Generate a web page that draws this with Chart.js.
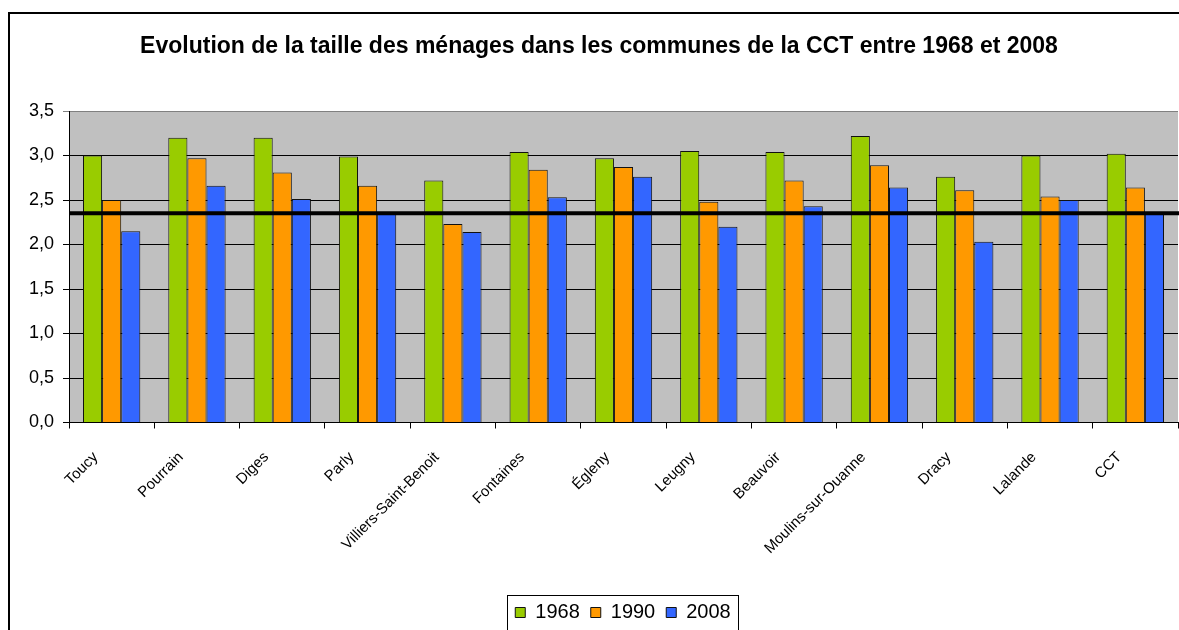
<!DOCTYPE html>
<html><head><meta charset="utf-8">
<script src="https://cdn.jsdelivr.net/npm/chart.js@4.4.1/dist/chart.umd.min.js"></script>
<style>html,body{margin:0;padding:0;background:#fff;overflow:hidden}#wrap{width:1179px;height:630px;position:relative}</style>
</head><body><div id="wrap"><canvas id="c" width="1179" height="630"></canvas></div>
<script>
const categories = ['Toucy','Pourrain','Diges','Parly','Villiers-Saint-Benoit','Fontaines','Égleny','Leugny','Beauvoir','Moulins-sur-Ouanne','Dracy','Lalande','CCT'];
const seriesNames = ['1968','1990','2008'];
const values1968 = [3.00, 3.20, 3.20, 2.99, 2.72, 3.04, 2.97, 3.05, 3.04, 3.22, 2.76, 3.00, 3.02];
const values1990 = [2.50, 2.97, 2.81, 2.66, 2.23, 2.84, 2.87, 2.48, 2.72, 2.89, 2.61, 2.54, 2.64];
const values2008 = [2.15, 2.66, 2.51, 2.35, 2.14, 2.53, 2.76, 2.20, 2.43, 2.64, 2.03, 2.50, 2.35];
const referenceValue = 2.35;
const titleText = 'Evolution de la taille des ménages dans les communes de la CCT entre 1968 et 2008';
const yMin = 0, yMax = 3.5, yStep = 0.5;

const seriesColors = ['#99CC00', '#FF9900', '#3366FF'];
const FONT = '"Liberation Sans", Arial, sans-serif';

const decor = {
  id: 'decor',
  beforeDraw(chart) {
    const {ctx, chartArea: a} = chart;
    ctx.save();
    ctx.fillStyle = '#fff';
    ctx.fillRect(0, 0, chart.width, chart.height);
    ctx.fillStyle = '#C0C0C0';
    ctx.fillRect(a.left, a.top, a.right - a.left, a.bottom - a.top);
    ctx.restore();
  },
  afterLayout(chart) {
    if (chart.legend) { chart.legend.left += 30; chart.legend.right += 30; }
    if (chart.titleBlock) { chart.titleBlock.left += 6; chart.titleBlock.right += 6; }
  },
  afterDatasetsDraw(chart) {
    const {ctx, chartArea: a} = chart;
    const y = chart.scales.y.getPixelForValue(referenceValue);
    ctx.save();
    ctx.strokeStyle = '#000';
    ctx.lineWidth = 4;
    ctx.beginPath();
    ctx.moveTo(a.left, y);
    ctx.lineTo(a.right + 2, y);
    ctx.stroke();
    ctx.restore();
  },
  afterDraw(chart) {
    const ctx = chart.ctx;
    ctx.save();
    ctx.strokeStyle = '#000';
    ctx.lineWidth = 2;
    ctx.strokeRect(9, 13, 1400, 1000);
    const lg = chart.legend;
    if (lg && lg.lineWidths) {
      const pad = lg.options.labels.padding;
      const lw = lg.lineWidths[0];
      const x0 = (lg.left + pad + lg.right - lw) / 2;
      const x1 = x0 + lw - pad;
      const top = lg.top + pad - 8;
      ctx.lineWidth = 1;
      ctx.strokeRect(Math.round(x0 - 8) + 0.5, Math.round(top) + 0.5, Math.round(x1 - x0 + 16), 200);
    }
    ctx.restore();
  }
};

new Chart(document.getElementById('c'), {
  type: 'bar',
  data: {
    labels: categories,
    datasets: [
      { label: seriesNames[0], data: values1968, backgroundColor: seriesColors[0] },
      { label: seriesNames[1], data: values1990, backgroundColor: seriesColors[1] },
      { label: seriesNames[2], data: values2008, backgroundColor: seriesColors[2] }
    ]
  },
  options: {
    responsive: false,
    animation: false,
    devicePixelRatio: 1,
    layout: { padding: { left: 8, right: 1, top: 0, bottom: -2.5 } },
    datasets: { bar: { borderColor: '#111', borderWidth: 1, categoryPercentage: 0.672, barPercentage: 1.0 } },
    plugins: {
      title: {
        display: true, text: titleText, color: '#000',
        font: { family: FONT, size: 23, weight: 'bold' },
        padding: { top: 33.2, bottom: 50.2 }
      },
      legend: {
        position: 'bottom',
        labels: { color: '#000', font: { family: FONT, size: 20 }, boxWidth: 10, boxHeight: 10, padding: 11 }
      },
      tooltip: { enabled: false }
    },
    scales: {
      x: {
        offset: true,
        afterFit(scale) { scale.height = 169; },
        grid: { display: true, drawOnChartArea: false, drawTicks: true, tickLength: 6, color: '#000', offset: true },
        border: { color: '#000', width: 1 },
        ticks: { autoSkip: false, maxRotation: 45, minRotation: 45, color: '#000', font: { family: FONT, size: 15 }, padding: 20, labelOffset: -16 }
      },
      y: {
        min: yMin, max: yMax,
        afterFit(scale) { scale.width = 61; },
        grid: { color: (c) => (c.tick && c.tick.value === yMax) ? '#808080' : '#000', lineWidth: 1, tickLength: 6, drawTicks: true },
        border: { color: '#000', width: 1 },
        ticks: { stepSize: yStep, color: '#000', font: { family: FONT, size: 18 }, padding: 9,
          callback: (v) => Number(v).toFixed(1).replace('.', ',') }
      }
    }
  },
  plugins: [decor]
});
</script>
</body></html>
